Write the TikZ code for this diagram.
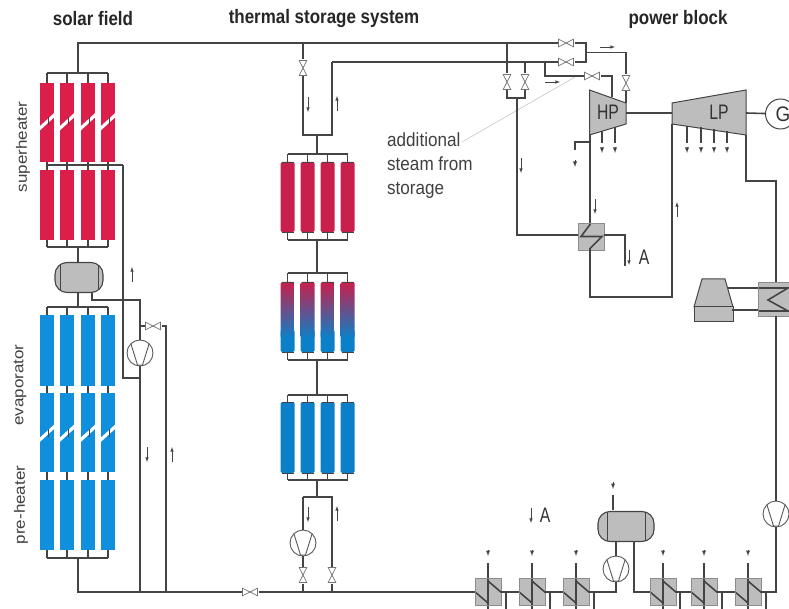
\documentclass[tikz,border=0pt]{standalone}
\usepackage{fontspec}
\setmainfont{Liberation Sans}
\usepackage{xcolor}
\definecolor{pipegray}{HTML}{444444}
\definecolor{boxgray}{HTML}{BDBDBD}
\definecolor{solarred}{HTML}{DC1E4B}
\definecolor{solarblue}{HTML}{0F8FDC}
\definecolor{storered}{HTML}{C81F4C}
\definecolor{storeblue}{HTML}{0B80C8}
\definecolor{storemix}{HTML}{7F6080}
\tikzset{
  pipe/.style={draw=pipegray,line width=1.6pt},
  flow/.style={->,draw=pipegray,line width=0.6pt},
  tinyflow/.style={->,draw=pipegray,line width=0.9pt},
  thinline/.style={draw=pipegray,line width=0.9pt},
  title/.style={font=\fontsize{19.5}{22}\selectfont\bfseries,text=black!85,xscale=0.87,transform shape,inner sep=0pt},
  label/.style={font=\fontsize{19}{24}\selectfont,text=black!75,xscale=0.9,transform shape,inner sep=0pt,align=left},
  sidelabel/.style={font=\fontsize{17}{20}\selectfont,text=black!75,rotate=90,yscale=0.88,transform shape,inner sep=0pt},
  bigletter/.style={font=\fontsize{21}{24}\selectfont,text=black!80,xscale=0.75,transform shape,inner sep=0pt},
  collector/.style={rectangle,anchor=north,inner sep=0pt,outer sep=0pt,minimum width=14pt,minimum height=#1},
  storecoll/.style={collector=#1,rounded corners=1.5pt},
  valve/.style={rectangle,inner sep=0pt,outer sep=0pt,minimum width=17pt,minimum height=9pt,
    path picture={\draw[black!55,line width=0.7pt,fill=white,shift={(path picture bounding box.center)}]
      (-7.5,-3.8)--(7.5,3.8)--(7.5,-3.8)--(-7.5,3.8)--cycle;}},
  vvalve/.style={rectangle,inner sep=0pt,outer sep=0pt,minimum width=9pt,minimum height=17pt,
    path picture={\draw[black!55,line width=0.7pt,fill=white,shift={(path picture bounding box.center)}]
      (-3.8,-7.5)--(3.8,7.5)--(-3.8,7.5)--(3.8,-7.5)--cycle;}},
  pump/.style={circle,draw=black!65,line width=0.9pt,fill=white,inner sep=0pt,minimum size=26pt,
    path picture={\draw[black!65,line width=0.9pt,shift={(path picture bounding box.center)}]
      (-9,-9)--(-2.5,12)--(2.5,12)--(9,-9);}},
  hxbox/.style={rectangle,draw=black!45,line width=0.6pt,fill=boxgray,inner sep=0pt,minimum width=26pt,minimum height=27pt},
  hxzed/.style={hxbox,path picture={\draw[pipe,shift={(path picture bounding box.center)}]
      (-1,-14)--(-1,-12)--(-10,0)--(11,0)--(-1,12)--(-1,14);}},
  hxen/.style={hxbox,path picture={\draw[pipe,shift={(path picture bounding box.center)}]
      (-14,-1)--(0,11)--(0,14) (0,-14)--(0,11) (0,-11)--(14,1);}},
  hxcond/.style={hxbox,minimum width=34pt,minimum height=34pt,path picture={\draw[pipe,shift={(path picture bounding box.center)}]
      (-18,-11)--(13,-11)--(-7,1)--(13,12)--(-18,12);}},
  drum/.style={rectangle,draw=pipegray,line width=1.1pt,fill=boxgray,rounded corners=12pt,inner sep=0pt,
    minimum width=#1,minimum height=30pt,
    path picture={\draw[pipegray,line width=1pt,shift={(path picture bounding box.center)}]
      (-19,-16)--(-19,16) (19,-16)--(19,16);}},
}
\begin{document}
\begin{tikzpicture}[>=latex,x=1pt,y=-1pt]
    \clip (0,0) rectangle (789,609);
    %headings
    \node[title] (tsolar) at (93,19){solar field};
    \node[title] (tstore) at (324,19){thermal storage system};
    \node[title] (tpower) at (678,19){power block};
    \node[sidelabel] (lsuper) at (23,147){superheater};
    \node[sidelabel] (levap) at (20,385){evaporator};
    \node[sidelabel] (lpre) at (21,505){pre-heater};
    \draw[black!20,line width=0.7pt] (575,77)--(462,142);
    \node[label,anchor=north west] (lsteam) at (387,132.5){additional\\steam from\\storage};

    %solar field
    \foreach \r/\y/\h/\c in {a/83/79/solarred,b/170/70/solarred,c/315/71/solarblue,d/393/79/solarblue,e/480/70/solarblue}{
      \foreach \i/\x in {1/47,2/67,3/88,4/108}{
        \node[collector=\h pt,fill=\c] (\r\i) at (\x,\y){};
      }
    }
    \foreach \x in {47,67,88,108}{
      \draw[white,line width=3.2pt] (\x-8.5,129.5)--(\x+8.5,114);
      \draw[thinline] (\x+1,117)--(\x+1,125);
      \draw[white,line width=3.2pt] (\x-8.5,441)--(\x+8.5,425.5);
      \draw[thinline] (\x+1,429)--(\x+1,437);
    }
    \coordinate (sftop) at (78,73);
    \coordinate (sfmid) at (123,165);
    \coordinate (sfdrum) at (78,247);
    \coordinate (sfevap) at (78,307);
    \coordinate (sfout) at (78,558);
    \foreach \i in {1,...,4}{
      \draw[pipe] (a\i.north)--(a\i.north|-sftop) (a\i.south)--(b\i.north)
        (b\i.south)--(b\i.south|-sfdrum) (c\i.north)--(c\i.north|-sfevap)
        (c\i.south)--(d\i.north) (d\i.south)--(e\i.north) (e\i.south)--(e\i.south|-sfout);
    }
    \draw[pipe] (a1|-sftop)--(a4|-sftop) (a1|-sfdrum)--(a4|-sfdrum) (a1|-sfevap)--(a4|-sfevap) (a1|-sfout)--(a4|-sfout);
    \draw[pipe] (b1.north|-sfmid)--(sfmid);
    \node[drum=48pt] (sdrum) at (79,277.5){};
    \node[pump] (spump) at (140,353){};
    \node[valve] (vsf) at (153,326){};
    \node[valve] (vbot) at (250,592){};
    \coordinate (jrec) at (140,300);
    \coordinate (jfeed) at (140,592);
    \coordinate (jret) at (166,592);
    \coordinate (jpre) at (78,592);
    \coordinate (jvalve) at (140,326);
    \draw[pipe] (sfdrum)--(78,263);
    \draw[pipe] (78,292)--(sfevap);
    \draw[pipe] (92,292)--(92,300)--(jrec)--(jvalve)--(spump);
    \draw[pipe] (sfmid)--(123,378)--(140,378);
    \draw[pipe] (spump)--(jfeed);
    \draw[pipe] (jvalve)--(vsf)--(166,326)--(jret);
    \draw[pipe] (sfout)--(jpre)--(vbot);

    %thermal storage system
    \foreach \i/\x in {1/287.5,2/307.5,3/327.5,4/347.5}{
      \node[storecoll=70pt,fill=storered] (t\i) at (\x,162){};
      \node[storecoll=22pt,fill=storeblue] (n\i) at (\x,330){};
      \node[storecoll=56pt,top color=storered,middle color=storemix,bottom color=storeblue] (m\i) at (\x,282){};
      \node[storecoll=71pt,fill=storeblue] (u\i) at (\x,402){};
      \foreach \n in {t\i,u\i}{
        \draw[thinline] ([xshift=1pt]\n.north west)--([xshift=-1pt]\n.north east) ([xshift=1pt]\n.south west)--([xshift=-1pt]\n.south east);
      }
      \draw[thinline] ([xshift=1pt]m\i.north west)--([xshift=-1pt]m\i.north east) ([xshift=1pt]n\i.south west)--([xshift=-1pt]n\i.south east);
    }
    \coordinate (stin) at (303,135);
    \coordinate (stret) at (332,135);
    \coordinate (stm1) at (317,154);
    \coordinate (stm2) at (317,240);
    \coordinate (stm3) at (317,273);
    \coordinate (stm4) at (317,360);
    \coordinate (stm5) at (317,395);
    \coordinate (stm6) at (317,480);
    \coordinate (stlow) at (317,497);
    \foreach \i in {1,...,4}{
      \draw[pipe] (t\i.north)--(t\i.north|-stm1) (t\i.south)--(t\i.south|-stm2)
        (m\i.north)--(m\i.north|-stm3) (n\i.south)--(n\i.south|-stm4)
        (u\i.north)--(u\i.north|-stm5) (u\i.south)--(u\i.south|-stm6);
    }
    \draw[pipe] (t1|-stm1)--(t4|-stm1) (t1|-stm2)--(t4|-stm2) (t1|-stm3)--(t4|-stm3)
      (t1|-stm4)--(t4|-stm4) (t1|-stm5)--(t4|-stm5) (t1|-stm6)--(t4|-stm6);
    \draw[pipe] (stin-|stm1)--(stm1) (stm2)--(stm3) (stm4)--(stm5) (stm6)--(stlow);
    \node[vvalve] (vstin) at (303,68){};
    \node[pump] (stpump) at (303,543){};
    \node[vvalve] (vstl) at (303,575){};
    \node[vvalve] (vstr) at (332,575){};
    \coordinate (jtop) at (303,43);
    \coordinate (jlowl) at (303,497);
    \coordinate (jlowr) at (332,497);
    \coordinate (jl) at (303,592);
    \coordinate (jr) at (332,592);
    \coordinate (stcorner) at (332,62);
    \draw[pipe] (jtop)--(vstin)--(stin)--(stret)--(stcorner);
    \draw[pipe] (jlowl)--(jlowr)--(vstr)--(jr);
    \draw[pipe] (jlowl)--(stpump)--(vstl)--(jl);

    %power block
    \node[valve] (vhpa) at (566,43){};
    \node[valve] (vhpb) at (566,62){};
    \node[valve] (vadd) at (592,76){};
    \node[vvalve] (vhpc) at (626,83){};
    \node[vvalve] (vdra) at (507,82){};
    \node[vvalve] (vdrb) at (525,82){};
    \coordinate (jsf) at (78,43);
    \coordinate (jmain) at (586,43);
    \coordinate (jstor) at (586,62);
    \coordinate (jd1) at (507,43);
    \coordinate (jd2) at (507,62);
    \coordinate (jd3) at (525,62);
    \coordinate (jd4) at (545,62);
    \coordinate (jd5) at (507,98);
    \coordinate (jd6) at (525,98);
    \coordinate (jd7) at (517,98);
    \draw[pipe] (sftop)--(jsf)--(vhpa)--(jmain)--(jstor)--(vhpb)--(stcorner);
    \draw[pipe] (jd1)--(jd2) (jd3)--(vdrb)--(jd6)--(jd5)--(vdra)--(jd2);
    \draw[pipe] (jd4)--(545,76)--(vadd)--(612,76)--(612,97);
    \draw[pipe] (586,52.5)--(626,52.5)--(vhpc)--(626,103);
    \fill[boxgray,draw=pipegray,line width=1pt] (589.5,90) coordinate (hpa)--(626,103)--(626,124) coordinate (hpb)--(589.5,135) coordinate (hpc)--cycle;
    \fill[boxgray,draw=pipegray,line width=1pt] (672,103) coordinate (lpa)--(746,90)--(746,135) coordinate (lpb)--(672,124) coordinate (lpc)--cycle;
    \node[bigletter] (lhp) at (608,112){HP};
    \node[bigletter] (llp) at (719,112){LP};
    \node[circle,draw=pipegray,line width=1pt,fill=white,minimum size=30pt,inner sep=0pt] (gen) at (780.5,114){};
    \node[bigletter,xscale=1.2] (lgen) at (783,114){G};
    \draw[pipe] (626,113)--(672,113) (746,113)--(gen);
    \node[hxzed] (hxhp) at (591,236.5){};
    \coordinate (hxa) at (625,235);
    \draw[pipe] (jd7)--(517,235)--(hxhp.west|-517,235);
    \draw[pipe] (590,135)--(590,223);
    \draw[pipe] (hxhp.east|-hxa)--(hxa)--(625,266);
    \draw[pipe] (590,250)--(590,297)--(672,297)--(lpc);
    \draw[pipe] (589.5,142)--(575,142)--(575,150);
    \foreach \x/\y in {602/131,615/127,687/126,701/127,714/129,727/131}{
      \draw[pipe] (\x,\y)--(\x,143);
      \draw[tinyflow] (\x,147)--(\x,153);
    }
    \draw[tinyflow] (575,160)--(575,167);
    \node[hxcond] (hxlp) at (775,299){};
    \draw[pipe] (lpb)--(746,181)--(776,181)--(776,282);
    \fill[boxgray,draw=pipegray,line width=1pt] (702,279)--(725,279)--(733,307)--(694,307)--cycle;
    \fill[boxgray,draw=pipegray,line width=1pt] (694,307) rectangle (733,321);
    \coordinate (twa) at (728,288);
    \coordinate (twb) at (732,310);
    \draw[pipe] (twa)--(twa-|hxlp.west) (twb)--(twb-|hxlp.west);

    %feed water line
    \foreach \n/\x in {1/488,2/532,3/576,4/663,5/704,6/748}{
      \node[hxen] (fw\n) at (\x,592){};
      \coordinate (fwt\n) at (\x,563);
      \coordinate (fwb\n) at (\x,609);
      \draw[pipe] (fwt\n)--(fw\n.north) (fw\n.south)--(fwb\n);
      \draw[tinyflow] (\x,550)--(\x,556);
    }
    \foreach \x in {506,550,594,680,722,766}{
      \draw[pipe] (\x,592)--(\x,609);
    }
    \node[drum=56pt] (fwdrum) at (626,526.5){};
    \node[pump] (fwpump) at (616,569){};
    \node[pump] (cdpump) at (776,514){};
    \coordinate (fwj) at (616,592);
    \coordinate (fwk) at (634,592);
    \coordinate (cdj) at (776,592);
    \draw[pipe] (vbot)--(fw1.west);
    \draw[pipe] (fw1.east)--(fw2.west) (fw2.east)--(fw3.west) (fw3.east)--(fwj)--(fwpump)--(fwpump|-fwdrum.south);
    \draw[pipe] (fwk|-fwdrum.south)--(fwk)--(fw4.west);
    \draw[pipe] (fw4.east)--(fw5.west) (fw5.east)--(fw6.west) (fw6.east)--(cdj)--(cdpump)--(hxlp.south-|cdpump);
    \draw[pipe] (613,495)--(613,510);
    \draw[tinyflow] (613,482)--(613,489);

    %flow arrows
    \foreach \x/\y in {147/447,308/97,308/507,521/158,595/199,629/250,531/508}{
      \draw[flow] (\x,\y)--+(0,15);
    }
    \foreach \x/\y in {132/282,172/462,337/111,337/521,677/217}{
      \draw[flow] (\x,\y)--+(0,-15);
    }
    \draw[flow] (600,47)--(615,47);
    \draw[flow] (545,82)--(560,82);
    \node[bigletter] (la) at (644,257){A};
    \node[bigletter] (lb) at (545,515){A};
\end{tikzpicture}
\end{document}
